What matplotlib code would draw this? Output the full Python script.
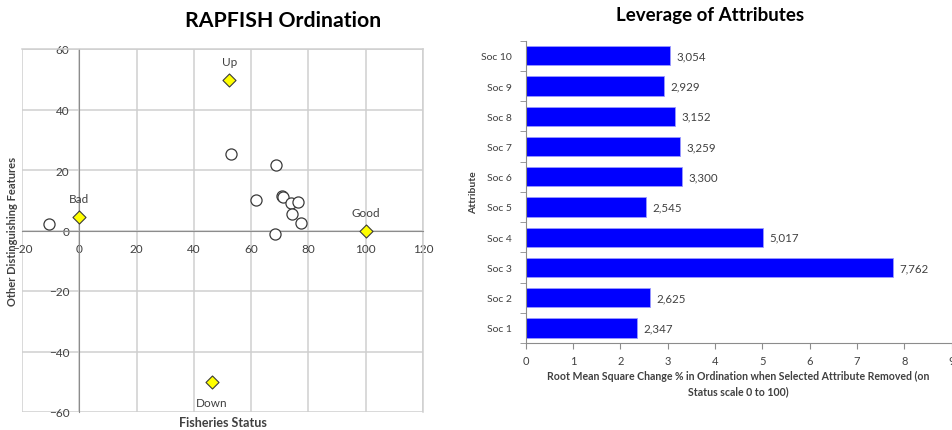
import numpy as np
import matplotlib
matplotlib.use("Agg")
import matplotlib.pyplot as plt
from matplotlib.ticker import FixedLocator

plt.rcParams['font.family'] = ['Lato', 'DejaVu Sans']

# ordination scores of the fisheries (status, other features)
fish_x = [-10.7, 53.1, 68.7, 61.7, 70.6, 71.0, 73.8, 76.5, 74.2, 77.4, 68.4]
fish_y = [2.2, 25.2, 21.6, 10.2, 11.3, 11.0, 9.2, 9.3, 5.4, 2.6, -1.3]

# reference anchors
ref_names = ["Bad", "Up", "Good", "Down"]
ref_x = [0, 52.4, 100, 46.2]
ref_y = [4.4, 49.8, 0, -50]

# leverage of attributes
attributes = ["Soc 1", "Soc 2", "Soc 3", "Soc 4", "Soc 5",
              "Soc 6", "Soc 7", "Soc 8", "Soc 9", "Soc 10"]
leverage = [2.347, 2.625, 7.762, 5.017, 2.545, 3.300, 3.259, 3.152, 2.929, 3.054]

W, H = 953, 431
fig = plt.figure(figsize=(W / 100, H / 100), dpi=100)
txt = '#404040'
grid = '#cfcfcf'

# ---- RAPFISH ordination scatter ----
ax1 = fig.add_axes([22 / W, (H - 413) / H, 401 / W, 363 / H])
ax1.set_xlim(-20, 120)
ax1.set_ylim(-60, 60)
ax1.set_xticks(np.arange(-20, 121, 20))
ax1.set_yticks(np.arange(-60, 61, 20))
ax1.grid(True, color=grid, lw=1.1)
ax1.set_axisbelow(True)
for s in ['top', 'right']:
    ax1.spines[s].set_color(grid)
    ax1.spines[s].set_linewidth(1.1)
ax1.spines['left'].set_position(('data', 0))
ax1.spines['bottom'].set_position(('data', 0))
for s in ['left', 'bottom']:
    ax1.spines[s].set_color('#8c8c8c')
ax1.tick_params(length=0, labelsize=8.5, labelcolor=txt)
ax1.tick_params(axis='x', pad=9)
ax1.tick_params(axis='y', pad=7)

ax1.scatter(fish_x, fish_y, s=64, facecolor='white', edgecolor='#3a3a3a',
            linewidth=0.9, zorder=3)
ax1.scatter(ref_x, ref_y, marker='D', s=44, facecolor='#ffff00',
            edgecolor='#3a3a3a', linewidth=0.8, zorder=4)
offsets = {"Bad": 6.2, "Up": 6.2, "Good": 6.0, "Down": -7.0}
for name, x, y in zip(ref_names, ref_x, ref_y):
    ax1.text(x, y + offsets[name], name, ha='center', va='center',
             fontsize=8.5, color=txt)

fig.text(283 / W, 1 - 21 / H, "RAPFISH Ordination", ha='center', va='center',
         fontsize=15.3, fontweight='bold')
fig.text(13 / W, 1 - 231 / H, "Other Distinguishing Features", rotation=90,
         ha='center', va='center', fontsize=8, fontweight='bold', color=txt)
fig.text(223 / W, 1 - 423 / H, "Fisheries Status", ha='center', va='center',
         fontsize=9, fontweight='bold', color=txt)

# ---- leverage bar chart ----
ax2 = fig.add_axes([525.7 / W, (H - 344) / H, 426 / W, 302.3 / H])
pos = np.arange(len(attributes))
ax2.barh(pos, leverage, height=0.64, color='#0000ff', edgecolor='#9a9aff',
         linewidth=0.6)
for p, v in zip(pos, leverage):
    ax2.text(v + 0.13, p, f"{v:.3f}".replace('.', ','), va='center',
             ha='left', fontsize=8.3, color=txt)
ax2.set_xlim(0, 9)
ax2.set_ylim(-0.5, len(attributes) - 0.5)
ax2.set_xticks(range(10))
ax2.set_yticks(pos)
ax2.set_yticklabels(attributes)
ax2.yaxis.set_minor_locator(FixedLocator(np.arange(-0.5, len(attributes), 1)))
for s in ['top', 'right']:
    ax2.spines[s].set_visible(False)
for s in ['left', 'bottom']:
    ax2.spines[s].set_color('#8c8c8c')
ax2.tick_params(axis='y', which='major', length=0, pad=10, labelsize=7.5,
                labelcolor=txt)
ax2.tick_params(axis='y', which='minor', length=4, color='#8c8c8c')
ax2.tick_params(axis='x', length=4, color='#8c8c8c', labelsize=8,
                labelcolor=txt, pad=5)

fig.text(710 / W, 1 - 16 / H, "Leverage of Attributes", ha='center',
         va='center', fontsize=13.5, fontweight='bold')
fig.text(474 / W, 1 - 193 / H, "Attribute", rotation=90, ha='center',
         va='center', fontsize=7.5, fontweight='bold', color=txt)
fig.text(738 / W, 1 - 384 / H,
         "Root Mean Square Change % in Ordination when Selected Attribute Removed (on\nStatus scale 0 to 100)",
         ha='center', va='center', fontsize=7.6, fontweight='bold', color=txt,
         linespacing=1.45)

fig.savefig("out.png", dpi=100)
